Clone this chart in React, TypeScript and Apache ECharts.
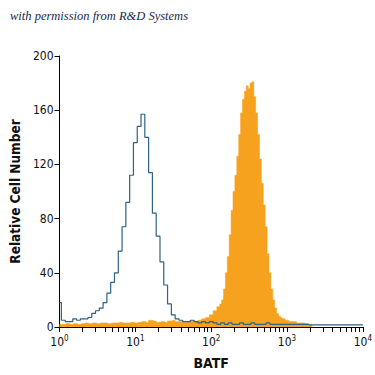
import React, { useEffect, useRef } from "react";
import * as echarts from "echarts";

// x positions are log10 of fluorescence intensity (decades)
const decades = [0, 1, 2, 3, 4];
const decadeBase = ["10", "10", "10", "10", "10"];
const decadeExp = ["0", "1", "2", "3", "4"];
const yTicks = [0, 40, 80, 120, 160, 200];

// Isotype control (open blue histogram)
const isotypeLog = [
  0, 0.05, 0.1, 0.15, 0.2, 0.25, 0.3, 0.35, 0.4, 0.45, 0.5, 0.55, 0.6, 0.65, 0.7, 0.75, 0.8, 0.85, 0.9, 0.95,
  1.0, 1.05, 1.1, 1.15, 1.2, 1.25, 1.3, 1.35, 1.4, 1.45, 1.5, 1.55, 1.6, 1.65, 1.7, 1.75, 1.8, 1.85, 1.9, 1.95,
  2.0, 2.05, 2.1, 2.15, 2.2, 2.25, 2.3, 2.35, 2.4, 2.45, 2.5, 2.55, 2.6, 2.65, 2.7, 2.75, 2.8, 2.85, 2.9, 2.95,
  3.0, 3.05, 3.1, 3.15, 3.2, 3.25, 3.3, 3.35, 3.4, 3.45, 3.5, 3.55, 3.6, 3.65, 3.7, 3.75, 3.8, 3.85, 3.9, 3.95, 4.0,
];
const isotypeCount = [
  18, 5, 4, 4, 6, 5, 6, 6, 7, 10, 12, 14, 18, 25, 33, 40, 56, 74, 92, 112,
  136, 148, 157, 140, 114, 84, 67, 48, 31, 17, 9, 6, 5, 4, 4, 5, 4, 3, 4, 3,
  4, 3, 2, 3, 2, 3, 2, 2, 3, 2, 2, 3, 2, 2, 2, 3, 2, 2, 2, 2,
  2, 2, 2, 2, 2, 2, 1.5, 1.5, 1.5, 1.5, 1.5, 1.5, 1.5, 1.5, 1.5, 1.5, 1.5, 1.5, 1.5, 1.5, 1.5,
];

// BATF antibody (filled orange histogram)
const batfLog = [
  0, 0.05, 0.1, 0.15, 0.2, 0.25, 0.3, 0.35, 0.4, 0.45, 0.5, 0.55, 0.6, 0.65, 0.7, 0.75, 0.8, 0.85, 0.9, 0.95,
  1.0, 1.05, 1.1, 1.15, 1.2, 1.25, 1.3, 1.35, 1.4, 1.45, 1.5, 1.55, 1.6, 1.65, 1.7, 1.75, 1.8, 1.85, 1.9, 1.95,
  2.0, 2.05, 2.1, 2.125, 2.15, 2.175, 2.2, 2.225, 2.25, 2.275, 2.3, 2.325, 2.35, 2.375, 2.4, 2.425, 2.45, 2.475,
  2.5, 2.525, 2.55, 2.575, 2.6, 2.625, 2.65, 2.675, 2.7, 2.725, 2.75, 2.775, 2.8, 2.825, 2.85, 2.875, 2.9, 2.925, 2.95,
  3.0, 3.05, 3.1, 3.15, 3.2, 3.25, 3.3, 3.35,
];
const batfCount = [
  2, 2, 2.5, 2, 2.5, 2, 2.5, 3, 2.5, 3, 2.5, 3, 3, 2.5, 3, 3, 3.5, 3, 3, 3.5,
  3, 3.5, 4, 3.5, 5, 4.5, 3.5, 4, 3.5, 4.5, 5, 4, 4, 3.5, 4, 4.5, 4, 5, 6, 7,
  9, 12, 15, 17, 20, 28, 40, 52, 68, 86, 100, 112, 126, 142, 158, 168, 174, 178,
  176, 180, 181, 170, 158, 142, 124, 106, 90, 74, 54, 40, 28, 20, 14, 10, 8, 7, 6,
  5, 4, 4, 3, 3, 2.5, 2, 0,
];

const minorTicks: number[] = [];
for (let d = 0; d < 4; d++) {
  for (let k = 1; k <= 9; k++) minorTicks.push(d + Math.log10(k));
}
minorTicks.push(4);

const FONT = "'Liberation Sans Narrow', 'DejaVu Sans Condensed', 'Liberation Sans', sans-serif";

export default function App() {
  const ref = useRef<HTMLDivElement>(null);
  useEffect(() => {
    if (!ref.current) return;
    const chart = echarts.init(ref.current, null, { renderer: "svg" });
    const isoData = isotypeLog.map((x, i) => [x, isotypeCount[i]]);
    const batfData = batfLog.map((x, i) => [x, batfCount[i]]);
    chart.setOption({
      animation: false,
      backgroundColor: "#ffffff",
      graphic: [
        {
          type: "text",
          left: 10,
          top: 9,
          style: {
            text: "with permission from R&D Systems",
            font: "italic 12.5px 'Liberation Serif', serif",
            fill: "#1b2a4a",
          },
        },
      ],
      grid: { left: 55, right: 8, top: 56, bottom: 48, containLabel: false },
      xAxis: {
        type: "value",
        min: 0,
        max: 4,
        interval: 1,
        name: "BATF",
        nameLocation: "middle",
        nameGap: 29,
        nameTextStyle: { fontFamily: FONT, fontSize: 14, fontWeight: "bold", color: "#111" },
        axisLine: { show: true, onZero: false, lineStyle: { color: "#000", width: 1 } },
        axisTick: { show: true, customValues: minorTicks, length: 5, lineStyle: { color: "#000" } },
        splitLine: { show: false },
        axisLabel: {
          customValues: decades,
          margin: 7,
          formatter: (v: number) => {
            const i = decades.indexOf(Math.round(v));
            return `{b|${decadeBase[i]}}{s|${decadeExp[i]}}`;
          },
          rich: {
            b: { fontFamily: FONT, fontSize: 12, color: "#111", lineHeight: 14, verticalAlign: "bottom" },
            s: { fontFamily: FONT, fontSize: 8, color: "#111", lineHeight: 14, verticalAlign: "top", padding: [0, 0, 6, 0] },
          },
        },
      },
      yAxis: {
        type: "value",
        min: 0,
        max: 200,
        interval: 40,
        name: "Relative Cell Number",
        nameLocation: "middle",
        nameRotate: 90,
        nameGap: 37,
        nameTextStyle: { fontFamily: FONT, fontSize: 13.5, fontWeight: "bold", color: "#111" },
        axisLine: { show: true, lineStyle: { color: "#000", width: 1 } },
        axisTick: { show: true, length: 5, lineStyle: { color: "#000" } },
        splitLine: { show: false },
        axisLabel: {
          fontFamily: FONT,
          fontSize: 12,
          color: "#111",
          margin: 6,
          customValues: yTicks,
        },
      },
      series: [
        {
          type: "line",
          name: "BATF",
          step: "middle",
          data: batfData,
          symbol: "none",
          lineStyle: { width: 0.5, color: "#f6a21e" },
          areaStyle: { color: "#f7a21f", opacity: 1 },
          z: 2,
        },
        {
          type: "line",
          name: "Isotype",
          step: "middle",
          data: isoData,
          symbol: "none",
          lineStyle: { width: 1.2, color: "#2d6284" },
          z: 3,
        },
      ],
    });
    return () => chart.dispose();
  }, []);
  return <div ref={ref} style={{ width: 375, height: 375, position: "absolute", left: 0, top: 0 }} />;
}
